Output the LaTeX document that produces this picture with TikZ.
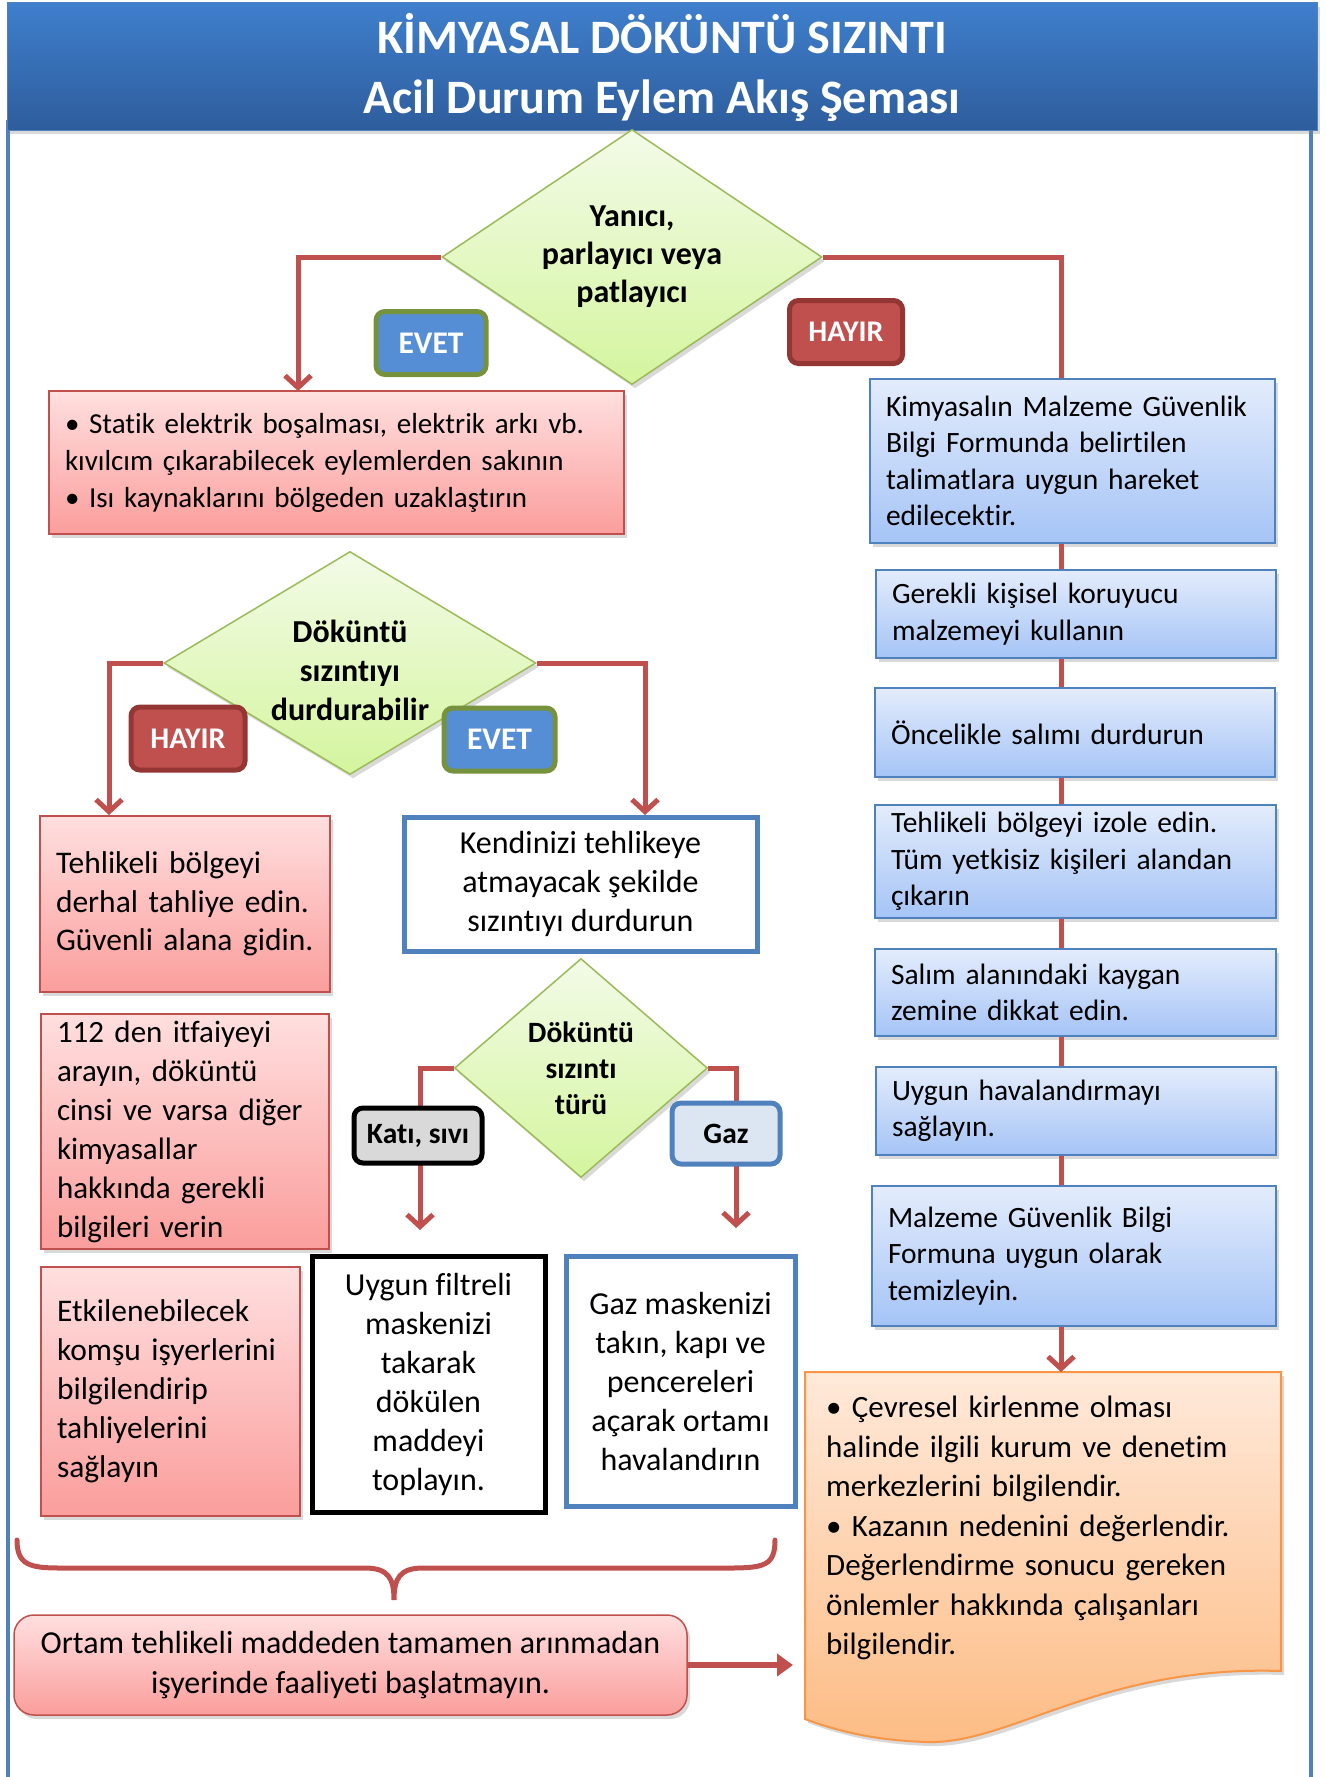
\documentclass[tikz,border=0pt]{standalone}
\usepackage{fontspec}
\setmainfont{Carlito}[Ligatures=NoCommon]
\usetikzlibrary{shapes.geometric,arrows.meta,shadows}
\definecolor{kirmizi}{HTML}{C0504D}
\definecolor{koyukirmizi}{HTML}{943634}
\definecolor{mavi}{HTML}{4F81BD}
\definecolor{acikmavi}{HTML}{558ED5}
\definecolor{yesil}{HTML}{9BBB59}
\definecolor{zeytin}{HTML}{76923C}
\definecolor{turuncu}{HTML}{F79646}
\definecolor{pembe1}{HTML}{FFDFDF}
\definecolor{pembe2}{HTML}{FA9E9C}
\definecolor{mavi1}{HTML}{E3ECFC}
\definecolor{mavi2}{HTML}{A5C4F6}
\definecolor{yesil1}{HTML}{F3FBE8}
\definecolor{yesil2}{HTML}{D4F59E}
\definecolor{baslik1}{HTML}{3F7FCD}
\definecolor{baslik2}{HTML}{2E5D9C}
\definecolor{turuncu1}{HTML}{FFE9DA}
\definecolor{turuncu2}{HTML}{FDBC84}
\definecolor{gazmavi}{HTML}{DCE6F2}
\newcommand{\yazi}[2]{\fontsize{#1}{#2}\selectfont}

\begin{document}
\begin{tikzpicture}[x=1pt, y=-1pt, >={Straight Barb[length=12pt,width=26pt]},
  golge/.style={drop shadow={shadow xshift=3pt, shadow yshift=-4pt, opacity=0.3}},
  hat/.style={draw=kirmizi, line width=5pt},
  karo/.style={diamond, draw=yesil, line width=1.5pt, top color=yesil1, bottom color=yesil2,
    inner sep=0pt, align=center, font=\bfseries\yazi{32}{38}, golge},
  kutu/.style={rectangle, draw=kirmizi, line width=1.5pt, top color=pembe1, bottom color=pembe2,
    inner xsep=16pt, inner ysep=0pt, align=left, font=\yazi{31.5}{38.5}, golge},
  mavikutu/.style={kutu, draw=mavi, top color=mavi1, bottom color=mavi2, font=\yazi{29.5}{36.5}},
  cerceve/.style={rectangle, draw=mavi, line width=5pt, fill=white, inner sep=0pt,
    align=center, font=\yazi{32}{39}},
  etiket/.style={rectangle, rounded corners=9pt, line width=5pt, inner sep=0pt,
    text=white, font=\bfseries\yazi{30}{30}},
  evet/.style={etiket, draw=zeytin, fill=acikmavi, font=\bfseries\yazi{31.5}{31.5}},
  hayir/.style={etiket, draw=koyukirmizi, fill=kirmizi}]
  \useasboundingbox (0,0) rectangle (1325,1777);
  \draw[mavi, line width=4pt] (8,120) -- (8,1790) (1311,120) -- (1311,1790);
  \node[rectangle, top color=baslik1, bottom color=baslik2, draw=mavi, line width=1pt,
    minimum width=1310pt, minimum height=127pt, text=white, align=center,
    font=\bfseries\yazi{48}{60}, golge] (baslik) at (662,66.5)
    {\rule{0pt}{42pt}KİMYASAL DÖKÜNTÜ SIZINTI\\Acil Durum Eylem Akış Şeması};

  \node[karo, aspect=1.49, minimum width=380pt, minimum height=255pt] (d1) at (632,257) {Yanıcı,\\parlayıcı veya\\patlayıcı};
  \node[kutu, text width=543pt, minimum height=143pt, font=\yazi{29}{37}] (r1) at (336.5,462.5)
    {• Statik elektrik boşalması, elektrik arkı vb.\\kıvılcım çıkarabilecek eylemlerden sakının\\• Isı kaynaklarını bölgeden uzaklaştırın};
  \node[karo, aspect=1.67, minimum width=372pt, minimum height=223pt, font=\bfseries\yazi{32}{39}] (d2) at (350,663)
    {\rule{0pt}{38pt}Döküntü\\sızıntıyı\\durdurabilir};
  \node[kutu, text width=258pt, minimum height=176pt] (r2) at (185,904) {Tehlikeli~bölgeyi\\derhal~tahliye~edin.\\Güvenli~alana~gidin.};
  \node[cerceve, minimum width=353pt, minimum height=134pt] (k1) at (580.5,884) {Kendinizi tehlikeye\\atmayacak şekilde\\sızıntıyı durdurun};
  \node[karo, aspect=1.16, minimum width=253pt, minimum height=219pt, font=\bfseries\yazi{29.5}{36}] (d3) at (581,1068) {Döküntü\\sızıntı\\türü};
  \node[kutu, text width=256pt, minimum height=235pt, font=\yazi{31}{39}] (r3) at (185,1131.5)
    {112 den itfaiyeyi\\arayın, döküntü\\cinsi~ve~varsa~diğer\\kimyasallar\\hakkında gerekli\\bilgileri verin};
  \node[kutu, text width=227pt, minimum height=249pt, font=\yazi{31.5}{39}] (r4) at (170.5,1391.5)
    {Etkilenebilecek\\komşu~işyerlerini\\bilgilendirip\\tahliyelerini\\sağlayın};
  \node[cerceve, draw=black, minimum width=233pt, minimum height=256pt] (siyah) at (428.5,1384)
    {Uygun filtreli\\maskenizi\\takarak\\dökülen\\maddeyi\\toplayın.};
  \node[cerceve, minimum width=229pt, minimum height=250pt] (gazkutu) at (680.5,1381)
    {Gaz maskenizi\\takın, kapı ve\\pencereleri\\açarak ortamı\\havalandırın};
  \node[kutu, rounded corners=20pt, align=center, minimum width=673pt, minimum height=100pt, font=\yazi{32}{40}] (ortam) at (350.5,1665)
    {Ortam tehlikeli maddeden tamamen arınmadan\\işyerinde faaliyeti başlatmayın.};

  \node[mavikutu, text width=373pt, minimum height=164pt] (b1) at (1072.5,461)
    {Kimyasalın Malzeme Güvenlik\\Bilgi Formunda belirtilen\\talimatlara uygun hareket\\edilecektir.};
  \node[mavikutu, text width=368pt, minimum height=88pt] (b2) at (1076,614) {Gerekli kişisel koruyucu\\malzemeyi kullanın};
  \node[mavikutu, text width=368pt, minimum height=89pt] (b3) at (1075,732.5) {Öncelikle salımı durdurun};
  \node[mavikutu, text width=369pt, minimum height=113pt] (b4) at (1075.5,861.5)
    {Tehlikeli bölgeyi izole edin.\\Tüm yetkisiz kişileri alandan\\çıkarın};
  \node[mavikutu, text width=369pt, minimum height=87pt] (b5) at (1075.5,992.5) {Salım alanındaki kaygan\\zemine dikkat edin.};
  \node[mavikutu, text width=368pt, minimum height=88pt] (b6) at (1076,1111) {Uygun havalandırmayı\\sağlayın.};
  \node[mavikutu, text width=372pt, minimum height=140pt] (b7) at (1074,1256)
    {Malzeme Güvenlik Bilgi\\Formuna uygun olarak\\temizleyin.};

  \draw[draw=turuncu, line width=2pt, top color=turuncu1, bottom color=turuncu2, golge]
    (805,1372) -- (1281,1372) -- (1281,1671) .. controls (1100,1665) and (1010,1745) .. (926,1742)
    .. controls (870,1740) and (835,1730) .. (805,1719) -- cycle;
  \node[anchor=north west, inner xsep=21pt, inner ysep=0pt, text width=434pt, minimum height=312pt,
    align=left, font=\yazi{31}{39.5}] (son) at (805,1372)
    {• Çevresel kirlenme olması\\halinde ilgili kurum ve denetim\\merkezlerini bilgilendir.\\• Kazanın nedenini değerlendir.\\Değerlendirme sonucu gereken\\önlemler hakkında çalışanları\\bilgilendir.};

  \coordinate (sag) at (1061,257);
  \coordinate (u1) at (298,391);
  \coordinate (u2) at (109,815);
  \coordinate (u3) at (645,815);
  \coordinate (u4) at (420,1230);
  \coordinate (u5) at (736,1228);
  \draw[hat, ->] (d1.west) -| (u1);
  \draw[hat] (d1.east) -| (b1.north -| sag);
  \foreach \a/\b in {b1/b2,b2/b3,b3/b4,b4/b5,b5/b6,b6/b7}
    \draw[hat] (\a.south -| sag) -- (\b.north -| sag);
  \draw[hat, ->] (b7.south -| sag) -- (son.north -| sag);
  \draw[hat, ->] (d2.west) -| (u2);
  \draw[hat, ->] (d2.east) -| (u3);
  \draw[hat, ->] (d3.west) -| (u4);
  \draw[hat, ->] (d3.east) -| (u5);
  \draw[hat, line width=6pt, -{Triangle[length=16pt,width=22pt]}, shorten >=12pt] (ortam.east) -- (ortam.east -| son.west);
  \draw[hat, line cap=round] (17,1540) .. controls (17,1565) and (30,1568) .. (60,1568) -- (365,1568)
    .. controls (388,1568) and (394,1578) .. (394,1600) .. controls (394,1578) and (400,1568) .. (423,1568)
    -- (730,1568) .. controls (765,1568) and (775,1565) .. (775,1540);

  \node[evet, minimum width=110pt, minimum height=63pt] (evet1) at (431,343) {EVET};
  \node[hayir, minimum width=113pt, minimum height=63pt] (hayir1) at (846,332) {HAYIR};
  \node[hayir, minimum width=114pt, minimum height=63pt] (hayir2) at (188,738.5) {HAYIR};
  \node[evet, minimum width=111pt, minimum height=63pt] (evet2) at (499.5,739.5) {EVET};
  \node[etiket, draw=black, fill=black!15, text=black, minimum width=128pt, minimum height=55pt,
    font=\bfseries\yazi{29.5}{29.5}] (kati) at (418,1135.5) {Katı, sıvı};
  \node[etiket, draw=mavi, fill=gazmavi, text=black, minimum width=108pt, minimum height=61pt,
    font=\bfseries\yazi{29.5}{29.5}] (gaz) at (726,1133.5) {Gaz};
\end{tikzpicture}
\end{document}
